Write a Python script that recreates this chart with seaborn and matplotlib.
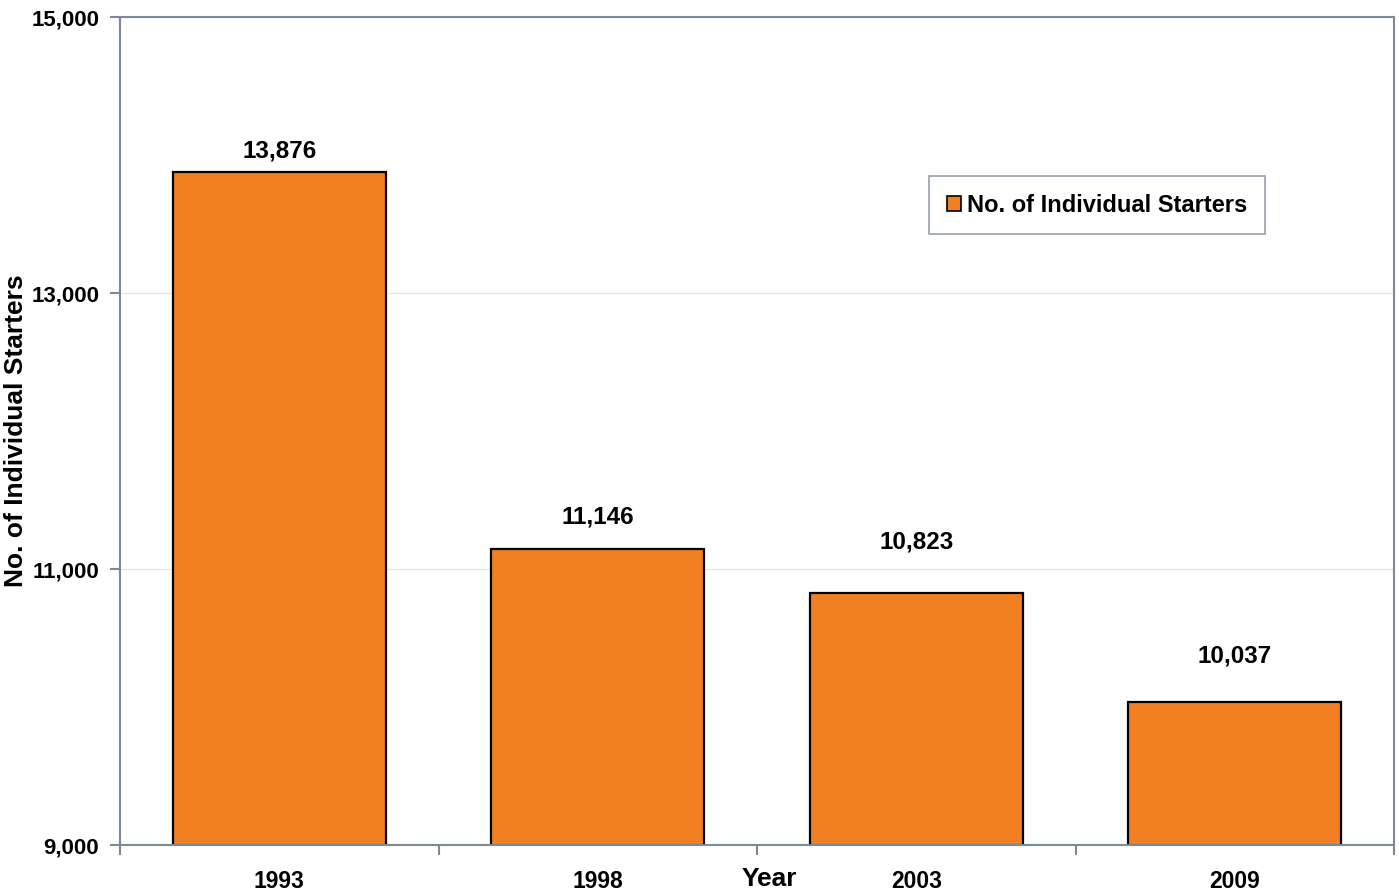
import matplotlib
matplotlib.use("Agg")
import matplotlib.pyplot as plt
import seaborn as sns
import pandas as pd
from matplotlib.ticker import FuncFormatter, FixedLocator

years = ["1993", "1998", "2003", "2009"]
starters = [13876, 11146, 10823, 10037]
y_ticks = [9000, 11000, 13000, 15000]
series_name = "No. of Individual Starters"

sns.set_theme(style="white")
plt.rcParams['font.family'] = ['Liberation Sans', 'DejaVu Sans']
plt.rcParams['font.weight'] = 'bold'
plt.rcParams['text.color'] = 'black'
plt.rcParams['axes.labelcolor'] = 'black'
plt.rcParams['xtick.color'] = 'black'
plt.rcParams['ytick.color'] = 'black'

df = pd.DataFrame({"Year": years, "Starters": starters, "Series": series_name})

fig = plt.figure(figsize=(13.99, 8.96), dpi=100)
ax = fig.add_axes([120/1399, 51/896, 1274/1399, 828/896])

sns.barplot(data=df, x="Year", y="Starters", hue="Series", palette=["#F28022"],
            width=0.67, edgecolor="black", linewidth=1.6, ax=ax, saturation=1)

ax.set_ylim(9000, 15000)
ax.set_xlim(-0.5, 3.5)
ax.set_yticks(y_ticks)
ax.yaxis.set_major_formatter(FuncFormatter(lambda v, p: f"{int(v):,}"))
ax.grid(axis="y", color="#e6e6e6", linewidth=1)
ax.set_axisbelow(True)

spine_col = "#7d8a96"
for s in ax.spines.values():
    s.set_visible(True)
    s.set_color(spine_col)
    s.set_linewidth(1.5)

ax.tick_params(axis="y", which="major", length=7, width=1.5, color=spine_col,
               labelcolor="black", direction="out", left=True, pad=8, labelsize=16)
ax.tick_params(axis="x", which="major", length=0, pad=18, labelsize=16.5,
               labelcolor="black")
ax.xaxis.set_minor_locator(FixedLocator([-0.5, 0.5, 1.5, 2.5, 3.5]))
ax.tick_params(axis="x", which="minor", length=7, width=1.5, color=spine_col,
               direction="out", bottom=True)
for lbl in ax.get_xticklabels() + ax.get_yticklabels():
    lbl.set_fontweight("bold")

ax.set_xlabel("Year", fontsize=19, fontweight="bold", color="black")
ax.xaxis.set_label_coords(0.51, -0.027)
ax.set_ylabel("No. of Individual Starters", fontsize=19, fontweight="bold",
              color="black")
ax.yaxis.set_label_coords(-0.0725, 0.5)

# data labels (Excel-style placement above each bar)
label_pads = [7, 15, 29, 25]
bars = ax.containers[0]
for rect, val, pad in zip(bars, starters, label_pads):
    ax.annotate(f"{val:,}", xy=(rect.get_x() + rect.get_width() / 2, rect.get_height()),
                xytext=(0, pad), textcoords="offset points", ha="center", va="bottom",
                fontsize=17.5, fontweight="bold", color="black")

leg = ax.legend(loc="upper left", bbox_to_anchor=(0.635, 0.808), frameon=True,
                fancybox=False, edgecolor="#7d8a96", fontsize=17,
                handlelength=0.6, handleheight=0.6, handletextpad=0.25,
                borderpad=0.75, borderaxespad=0)
leg.get_frame().set_linewidth(1.2)
for t in leg.get_texts():
    t.set_fontweight("bold")
    t.set_color("black")
for h in leg.legend_handles:
    h.set_edgecolor("black")
    h.set_linewidth(1.2)

fig.savefig("out.png", dpi=100, facecolor="white")
